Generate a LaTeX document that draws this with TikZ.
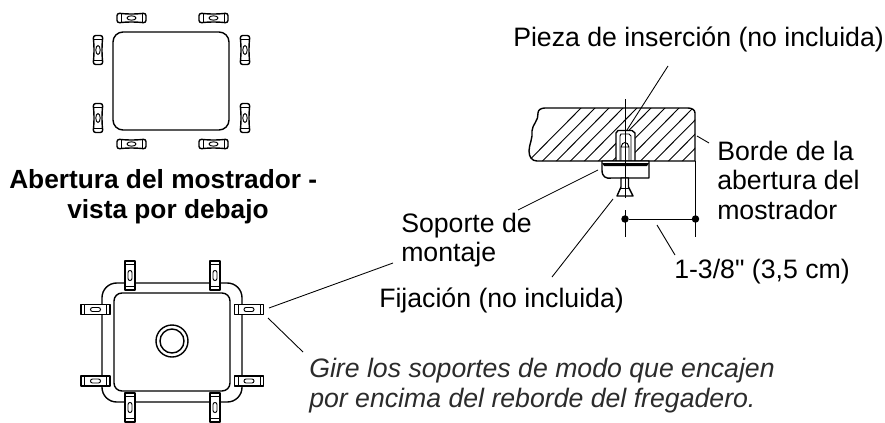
\documentclass[tikz,border=0pt]{standalone}
\usepackage{fontspec}
\setmainfont{Liberation Sans}[Ligatures=TeXOff]
\definecolor{ital}{HTML}{2B2B2B}
\tikzset{
 x=0.75pt,y=-0.75pt,
 ln/.style={line width=1.05pt,line join=round},
 thinln/.style={line width=0.7pt},
 leader/.style={line width=0.65pt},
 lab/.style={inner sep=0pt,anchor=base west,font=\fontsize{20}{22.2}\selectfont,align=left},
 dotn/.style={circle,fill=black,inner sep=0pt,minimum size=5.6pt},
}
% clips of the lower sink
\newcommand{\cliph}[2]{%
 \begin{scope}[shift={(#1,#2)}]
 \draw[ln] (-14.5,-5) rectangle (14.5,5);
 \draw[thinln] (-11,-5)--(-11,5) (11,-5)--(11,5);
 \draw[thinln,rounded corners=1.5pt] (-5,-2) rectangle (5,2);
 \end{scope}}
\newcommand{\clipv}[2]{%
 \begin{scope}[shift={(#1,#2)}]
 \draw[ln] (-5,-14.5) rectangle (5,14.5);
 \draw[thinln] (-5,-11)--(5,-11) (-5,11)--(5,11);
 \draw[thinln,rounded corners=1.5pt] (-2,-5) rectangle (2,5);
 \end{scope}}
% loose clips of the upper view
\newcommand{\looseh}[2]{%
 \begin{scope}[shift={(#1,#2)}]
 \draw[ln,rounded corners=2pt] (-14.5,-5) .. controls (-5,-3.8) and (5,-3.8) .. (14.5,-5) -- (14.5,5) .. controls (5,3.8) and (-5,3.8) .. (-14.5,5) -- cycle;
 \draw[thinln] (-10.5,-4.5)--(-10.5,4.5) (10.5,-4.5)--(10.5,4.5);
 \draw[thinln] (0,0) ellipse[x radius=4.5,y radius=2.2];
 \end{scope}}
\newcommand{\loosev}[2]{%
 \begin{scope}[shift={(#1,#2)}]
 \draw[ln,rounded corners=2pt] (-5,-14.5) .. controls (-3.8,-5) and (-3.8,5) .. (-5,14.5) -- (5,14.5) .. controls (3.8,5) and (3.8,-5) .. (5,-14.5) -- cycle;
 \draw[thinln] (-4.5,-10.5)--(4.5,-10.5) (-4.5,10.5)--(4.5,10.5);
 \draw[thinln] (0,0) ellipse[x radius=2.2,y radius=4.5];
 \end{scope}}
\begin{document}
\begin{tikzpicture}
\useasboundingbox (0,0) rectangle (885,422);
\fill[white] (0,0) rectangle (885,422);
% top sink
\draw[ln,rounded corners=7.5pt] (113,32) rectangle (229,130);
\looseh{131.5}{18}\looseh{213.5}{18}\looseh{131.5}{144}\looseh{213.5}{144}
\loosev{98}{50}\loosev{98}{118}\loosev{245}{50}\loosev{245}{118}
% bottom sink
\draw[ln,rounded corners=11pt] (102,283) rectangle (242,402);
\draw[ln,fill=white,rounded corners=6pt] (114,293) rectangle (230,391);
\draw[ln] (172,341) circle[radius=16];
\draw[ln] (172,341) circle[radius=12];
\begin{scope}[every path/.append style={fill=white}]
\clipv{130}{275.5}\clipv{215}{275.5}\clipv{130}{407.5}\clipv{215}{407.5}
\cliph{95.5}{309.5}\cliph{95.5}{381}\cliph{249}{309.5}\cliph{249}{381}
\end{scope}
% section
\begin{scope}
\clip (545,108) .. controls (541,108) and (538,110) .. (538,113) .. controls (539,120) and (532,125) .. (532,131) .. controls (533,138) and (529,145) .. (529,151) .. controls (529,157) and (532,161) .. (537,161) -- (695,161) -- (695,113) .. controls (695,110) and (692,108) .. (688,108) -- cycle;
\foreach \i in {0,...,17}{\draw[thinln] ({530+14*\i-2},161.5) -- ({530+14*\i-2+56},105);}
\end{scope}
\draw[ln] (688,108) -- (545,108) .. controls (541,108) and (538,110) .. (538,113) .. controls (539,120) and (532,125) .. (532,131) .. controls (533,138) and (529,145) .. (529,151) .. controls (529,157) and (532,161) .. (537,161) -- (695,161);
\draw[ln] (688,108) .. controls (692,108) and (695,110) .. (695,113) -- (695,161);
% insert
\draw[ln,fill=white] (616,161) -- (616,133) -- (618,130.5) -- (632,130.5) -- (635,133) -- (635,161) -- cycle;
\draw[thinln] (620,161) -- (620,136) -- (621,134) -- (629,134) -- (631,136) -- (631,161);
\draw[thinln] (621,147) .. controls (622,141) and (628,141) .. (629,147) -- (629,162) (621,147) -- (621,162) (621,147) -- (629,147);
% bracket
\draw[ln,fill=white] (602,161) -- (649,161) -- (649,178) -- (612,178) .. controls (606,179) and (602,177) .. (602,170) -- cycle;
\fill (602,163) -- (649,163) -- (647,166) -- (604,166) -- cycle;
% screw
\draw[ln,fill=white] (621,178) -- (621,187) -- (617,196) -- (633,196) -- (628.5,187) -- (628.5,178) -- cycle;
\draw[thinln] (620,188) -- (630,188);
% centre line and dims
\coordinate (cT) at (625,99);
\coordinate (cB1) at (625,198);
\coordinate (cB2) at (625,210);
\coordinate (cB3) at (625,237);
\coordinate (rB) at (695.5,237);
\coordinate (rT) at (695.5,161);
\draw[thinln] (cT) -- (cB1) (cB2) -- (cB3);
\draw[thinln] (rT) -- (rB);
\node[dotn] (d1) at (625,219) {};
\node[dotn] (d2) at (695.5,219) {};
\draw[thinln] (d1) -- (d2);
% leaders
\coordinate (a1) at (668,66); \coordinate (a2) at (627,130);
\coordinate (b1) at (697,136); \coordinate (b2) at (709,143);
\coordinate (c1) at (598,170); \coordinate (c2) at (518,210);
\coordinate (e1) at (613,199); \coordinate (e2) at (552,277);
\coordinate (f1) at (657,225); \coordinate (f2) at (675,255);
\coordinate (g1) at (269,308); \coordinate (g2) at (393,263);
\coordinate (h1) at (268,318); \coordinate (h2) at (303,352);
\draw[leader] (a1)--(a2) (b1)--(b2) (c1)--(c2) (e1)--(e2) (f1)--(f2) (g1)--(g2) (h1)--(h2);
% text
\node[lab] (tP) at (513,46) {Pieza de inserción (no incluida)};
\node[lab,anchor=north west] (tB) at (717,140.5) {Borde de la\\abertura del\\mostrador};
\node[lab,font=\fontsize{19.7}{22.2}\selectfont\bfseries,anchor=north west] (tA) at (9,169.5) {Abertura del mostrador -\\\hspace*{43.5pt}vista por debajo};
\node[lab,anchor=north west] (tS) at (401,212.5) {Soporte de\\montaje};
\node[lab] (tD) at (674,278) {1-3/8" (3,5 cm)};
\node[lab] (tF) at (379,307) {Fijación (no incluida)};
\node[lab,anchor=north west,font=\fontsize{20}{22.5}\selectfont\itshape,text=ital] (tG) at (309,357.5) {Gire los soportes de modo que encajen\\por encima del reborde del fregadero.};
\end{tikzpicture}
\end{document}
